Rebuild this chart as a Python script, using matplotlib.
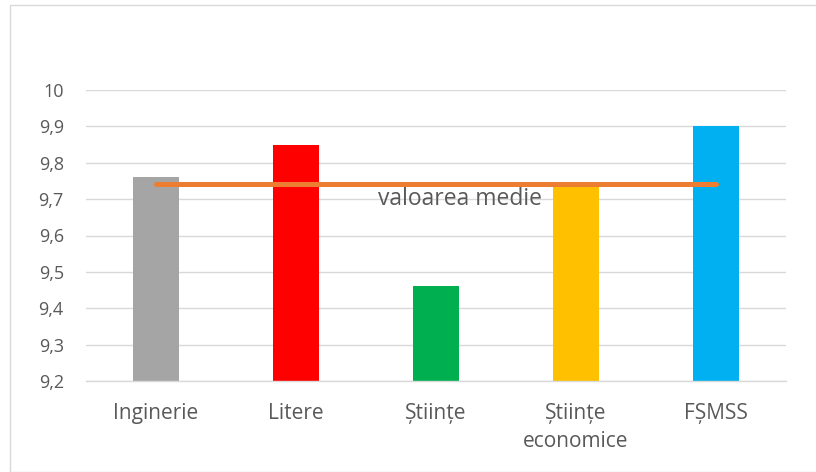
import numpy as np
import matplotlib
matplotlib.use("Agg")
import matplotlib.pyplot as plt
from matplotlib.patches import Rectangle
from matplotlib.ticker import FuncFormatter

plt.rcParams["font.family"] = ["Open Sans", "DejaVu Sans"]

categories = ["Inginerie", "Litere", "Științe", "Științe\neconomice", "FȘMSS"]
values = [9.76, 9.85, 9.46, 9.74, 9.90]
colors = ["#A5A5A5", "#FF0000", "#00B050", "#FFC000", "#00B0F0"]
mean_label = "valoarea medie"
mean_val = np.mean(values)
yticks = [9.2, 9.3, 9.4, 9.5, 9.6, 9.7, 9.8, 9.9, 10.0]

fig = plt.figure(figsize=(8.16, 4.72), dpi=100)
fig.patches.append(Rectangle((10 / 816, 0), 1.0, 1 - 5 / 472, transform=fig.transFigure,
                             fill=False, edgecolor="#D9D9D9", linewidth=1.0))
ax = fig.add_axes([86 / 816, 1 - 381 / 472, 700 / 816, 291 / 472])

x = np.arange(len(categories))
ax.bar(x, np.array(values) - 9.2, bottom=9.2, width=0.33, color=colors, zorder=2)
ax.plot(x, [mean_val] * len(x), color="#ED7D31", linewidth=3.6,
        solid_capstyle="round", zorder=3)
ax.text(2.17, mean_val - 0.009, mean_label, ha="center", va="top",
        fontsize=16.5, color="#595959", zorder=4)

ax.set_xlim(-0.5, 4.5)
ax.set_ylim(9.2, 10.0)
ax.set_yticks(yticks)
ax.yaxis.set_major_formatter(FuncFormatter(lambda v, p: f"{v:g}".replace(".", ",")))
ax.set_xticks(x)
ax.set_xticklabels(categories, fontsize=15, linespacing=1.45)
ax.tick_params(axis="both", length=0, colors="#595959")
ax.tick_params(axis="y", labelsize=13, pad=16)
ax.tick_params(axis="x", pad=16)
ax.grid(axis="y", color="#D9D9D9", linewidth=1.0, zorder=0)
for s in ["top", "right", "left"]:
    ax.spines[s].set_visible(False)
ax.spines["bottom"].set_color("#D9D9D9")
ax.spines["bottom"].set_linewidth(1.0)

fig.savefig("out.png", dpi=100)
